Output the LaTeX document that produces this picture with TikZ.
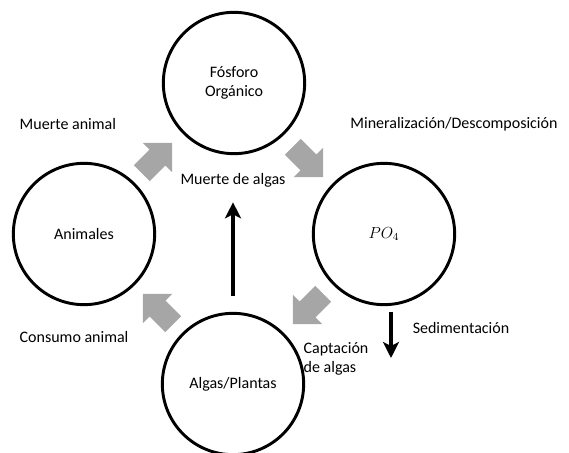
\documentclass[tikz,border=0pt]{standalone}
\usepackage{fontspec}
\setmainfont{Carlito}
\usetikzlibrary{arrows.meta,shapes.arrows}

\begin{document}
\begin{tikzpicture}[x=0.75pt,y=-0.75pt,
	etapa/.style={circle, draw, line width=2.2pt, minimum size=106pt, align=center, font=\fontsize{12}{14}\selectfont},
	bloque/.style={single arrow, draw=none, fill=black!35, inner sep=8pt, minimum width=31pt, minimum height=32pt, single arrow head extend=7pt},
	rotulo/.style={align=left, font=\fontsize{12}{14}\selectfont},
	flujo/.style={line width=2.6pt, -{Stealth[length=12pt,width=12pt,inset=3pt]}}]
			%%%%% START %%%%%
			
			\useasboundingbox (0, 0) rectangle (569, 453);
			
			% the four stages
			\node[etapa] (fosforo) at (234, 83) {Fósforo\\Orgánico};
			\node[etapa] (animales) at (84, 234) {Animales};
			\node[etapa] (po4) at (384, 234) {$PO_4$};
			\node[etapa] (algas) at (233, 384) {Algas/Plantas};
			
			% grey block arrows of the cycle
			\node[bloque, rotate=45] (b1) at (153, 162) {};
			\node[bloque, rotate=-45] (b2) at (304, 158) {};
			\node[bloque, rotate=-135] (b3) at (312, 305) {};
			\node[bloque, rotate=135] (b4) at (162, 313) {};
			
			% labels
			\node[rotulo, anchor=west] (muerteanimal) at (15, 124) {Muerte animal};
			\node[rotulo] (mineral) at (454, 124) {Mineralización/Descomposición};
			\node[rotulo] (muertealgas) at (233, 180) {Muerte de algas};
			\node[rotulo, anchor=west] (consumo) at (15, 337) {Consumo animal};
			\node[rotulo] (sedim) at (461, 328) {Sedimentación};
			\node[rotulo, anchor=west] (captacion) at (299, 359) {Captación\\de algas};
			
			% black arrows
			\draw[flujo, shorten <=12pt, shorten >=8pt] (algas.north) -- (muertealgas.south);
			\coordinate (sedA) at (391, 312);
			\coordinate (sedB) at (391, 358);
			\draw[flujo] (sedA) -- (sedB);
			
			%%%%% END %%%%%
\end{tikzpicture}
\end{document}
